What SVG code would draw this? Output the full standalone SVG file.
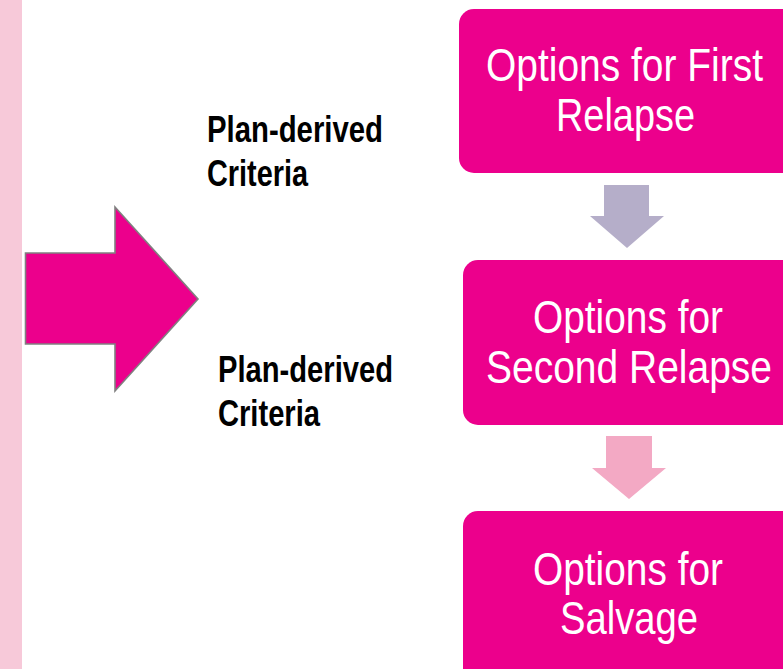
<svg xmlns="http://www.w3.org/2000/svg" width="783" height="669" viewBox="0 0 783 669">
  <style>
    .box { fill: #ec008c; }
    .boxtext { font-family: "Liberation Sans Narrow", "Arial Narrow", "Liberation Sans", sans-serif; font-size: 47px; fill: #ffffff; text-anchor: middle; }
    .label { font-family: "Liberation Sans Narrow", "Arial Narrow", "Liberation Sans", sans-serif; font-size: 36px; font-weight: bold; fill: #000000; }
  </style>
  <rect x="0" y="0" width="783" height="669" fill="#ffffff"/>
  <!-- side band -->
  <rect id="band" x="0" y="0" width="22" height="669" fill="#f7c9d9"/>

  <!-- large block arrow -->
  <g id="big-arrow">
    <polygon points="25.5,253 115,253 115,207 198,299 115,391 115,344 25.5,344" fill="#ec008c" stroke="#808080" stroke-width="1.6"/>
  </g>

  <g id="label-1">
    <text class="label" x="207" y="142" textLength="176" lengthAdjust="spacingAndGlyphs">Plan-derived</text>
    <text class="label" x="207" y="186" textLength="101" lengthAdjust="spacingAndGlyphs">Criteria</text>
  </g>
  <g id="label-2">
    <text class="label" x="218" y="382" textLength="175" lengthAdjust="spacingAndGlyphs">Plan-derived</text>
    <text class="label" x="218" y="426" textLength="102" lengthAdjust="spacingAndGlyphs">Criteria</text>
  </g>

  <g id="first-relapse">
    <rect class="box" x="459" y="9" width="345" height="164" rx="15"/>
    <text class="boxtext" x="624.5" y="81" textLength="277" lengthAdjust="spacingAndGlyphs">Options for First</text>
    <text class="boxtext" x="625.5" y="131" textLength="139" lengthAdjust="spacingAndGlyphs">Relapse</text>
  </g>
  <g id="second-relapse">
    <rect class="box" x="463" y="260" width="345" height="165" rx="15"/>
    <text class="boxtext" x="628" y="333" textLength="190" lengthAdjust="spacingAndGlyphs">Options for</text>
    <text class="boxtext" x="629" y="383" textLength="286" lengthAdjust="spacingAndGlyphs">Second Relapse</text>
  </g>
  <g id="salvage">
    <rect class="box" x="463" y="511" width="345" height="180" rx="15"/>
    <text class="boxtext" x="628" y="585" textLength="190" lengthAdjust="spacingAndGlyphs">Options for</text>
    <text class="boxtext" x="629" y="634" textLength="138" lengthAdjust="spacingAndGlyphs">Salvage</text>
  </g>

  <g id="connectors">
    <polygon points="604,185 649,185 649,216 664,216 627,248 590,216 604,216" fill="#b5aec9"/>
    <polygon points="606,436 652,436 652,468 666,468 629,499 592,468 606,468" fill="#f3a9c4"/>
  </g>
</svg>
